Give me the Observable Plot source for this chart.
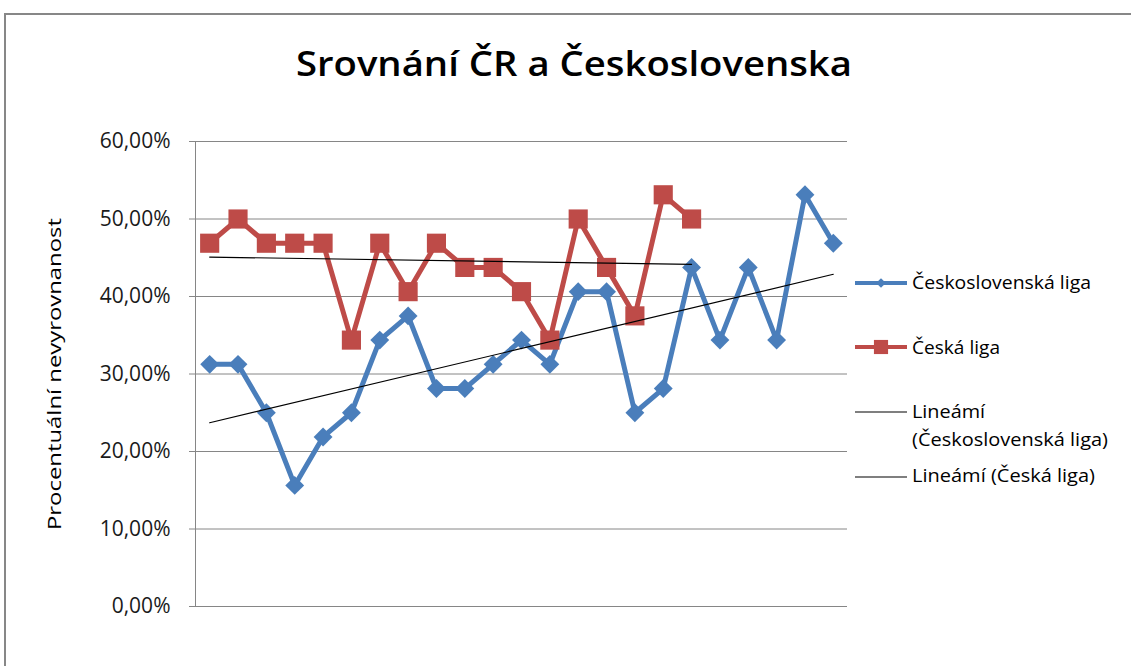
<!DOCTYPE html>
<html><head><meta charset="utf-8">
<script src="https://cdn.jsdelivr.net/npm/d3@7"></script>
<script src="https://cdn.jsdelivr.net/npm/@observablehq/plot@0.6"></script>
<style>
body{margin:0;background:#fff;overflow:hidden;font-family:"Open Sans",sans-serif;}
#wrap{position:relative;width:1131px;height:666px;overflow:hidden;background:#fff;}
#frame{position:absolute;left:4px;top:13px;width:1200px;height:800px;border:2px solid #878787;box-sizing:border-box;}
#chart{position:absolute;left:0;top:0;}
#overlay{position:absolute;left:0;top:0;}
</style></head><body>
<div id="wrap"><div id="frame"></div><div id="chart"></div><svg id="overlay" width="1131" height="666"></svg></div>
<script>
const titleText = "Srovnání ČR a Československa";
const yLabel = "Procentuální nevyrovnanost";
const seriesNames = ["Československá liga", "Česká liga"];
const trendNames = [["Lineámí", "(Československá liga)"], ["Lineámí (Česká liga)"]];
const yTicks = [0, 10, 20, 30, 40, 50, 60];
// values in percent
const csValues = [31.25, 31.25, 25, 15.625, 21.875, 25, 34.375, 37.5, 28.125, 28.125, 31.25, 34.375,
                  31.25, 40.625, 40.625, 25, 28.125, 43.75, 34.375, 43.75, 34.375, 53.125, 46.875];
const czValues = [46.875, 50, 46.875, 46.875, 46.875, 34.375, 46.875, 40.625, 46.875, 43.75, 43.75, 40.625,
                  34.375, 50, 43.75, 37.5, 53.125, 50];

const blue = "#4a7ebb", red = "#be4b48", grid = "#868686";
const csData = csValues.map((v, i) => ({x: i + 1, y: v}));
const czData = czValues.map((v, i) => ({x: i + 1, y: v}));
const fmt = d => d.toFixed(2).replace(".", ",") + "%";

const chart = Plot.plot({
  width: 1131, height: 666,
  marginLeft: 195, marginRight: 284, marginTop: 141, marginBottom: 60,
  x: {domain: [0.5, csValues.length + 0.5], axis: null},
  y: {domain: [0, 60], axis: null},
  style: {fontFamily: "Open Sans", fontSize: "21px", background: "transparent", color: "#000"},
  marks: [
    Plot.ruleY(yTicks, {stroke: grid, strokeWidth: 1}),
    Plot.ruleX([0.5], {stroke: grid, strokeWidth: 1}),
    Plot.axisY(yTicks, {tickSize: 6, tickPadding: 19, tickFormat: fmt, stroke: grid, fill: "#1a1a1a", label: null}),
    Plot.line(csData, {x: "x", y: "y", stroke: blue, strokeWidth: 5}),
    Plot.dot(csData, {x: "x", y: "y", symbol: "diamond2", r: 8.5, fill: blue, stroke: null}),
    Plot.line(czData, {x: "x", y: "y", stroke: red, strokeWidth: 5}),
    Plot.dot(czData, {x: "x", y: "y", symbol: "square", r: 10.8, fill: red, stroke: null}),
    Plot.linearRegressionY(csData, {x: "x", y: "y", ci: 0, stroke: "#000", strokeWidth: 1.2}),
    Plot.linearRegressionY(czData, {x: "x", y: "y", ci: 0, stroke: "#000", strokeWidth: 1.2})
  ]
});
document.getElementById("chart").appendChild(chart);

const ov = d3.select("#overlay").style("font-family", "Open Sans");
ov.append("text").attr("x", 574).attr("y", 76).attr("text-anchor", "middle")
  .attr("font-size", 35).attr("font-weight", 600).attr("fill", "#000")
  .attr("textLength", 556).attr("lengthAdjust", "spacingAndGlyphs").text(titleText);
ov.append("text").attr("transform", "translate(61,374) rotate(-90)").attr("text-anchor", "middle")
  .attr("font-size", 19).attr("fill", "#000")
  .attr("textLength", 312).attr("lengthAdjust", "spacingAndGlyphs").text(yLabel);

// legend
const lg = ov.append("g").attr("font-size", 18).attr("fill", "#000");
function entry(y, color, symbol, size, sw) {
  lg.append("line").attr("x1", 855).attr("x2", 907).attr("y1", y).attr("y2", y)
    .attr("stroke", color).attr("stroke-width", sw);
  if (symbol) lg.append("path").attr("transform", `translate(881,${y})`)
    .attr("d", d3.symbol(symbol, size)()).attr("fill", color);
}
entry(283, blue, d3.symbolDiamond2, 60, 4);
entry(347, red, d3.symbolSquare, 200, 4);
entry(412, "#000", null, 0, 1.2);
entry(477, "#000", null, 0, 1.2);
lg.append("text").attr("x", 912).attr("y", 289).attr("textLength", 179).attr("lengthAdjust", "spacingAndGlyphs").text(seriesNames[0]);
lg.append("text").attr("x", 912).attr("y", 354).attr("textLength", 88).attr("lengthAdjust", "spacingAndGlyphs").text(seriesNames[1]);
lg.append("text").attr("x", 912).attr("y", 418).attr("textLength", 73).attr("lengthAdjust", "spacingAndGlyphs").text(trendNames[0][0]);
lg.append("text").attr("x", 912).attr("y", 446).attr("textLength", 196).attr("lengthAdjust", "spacingAndGlyphs").text(trendNames[0][1]);
lg.append("text").attr("x", 912).attr("y", 482).attr("textLength", 183).attr("lengthAdjust", "spacingAndGlyphs").text(trendNames[1][0]);
</script>
</body></html>
